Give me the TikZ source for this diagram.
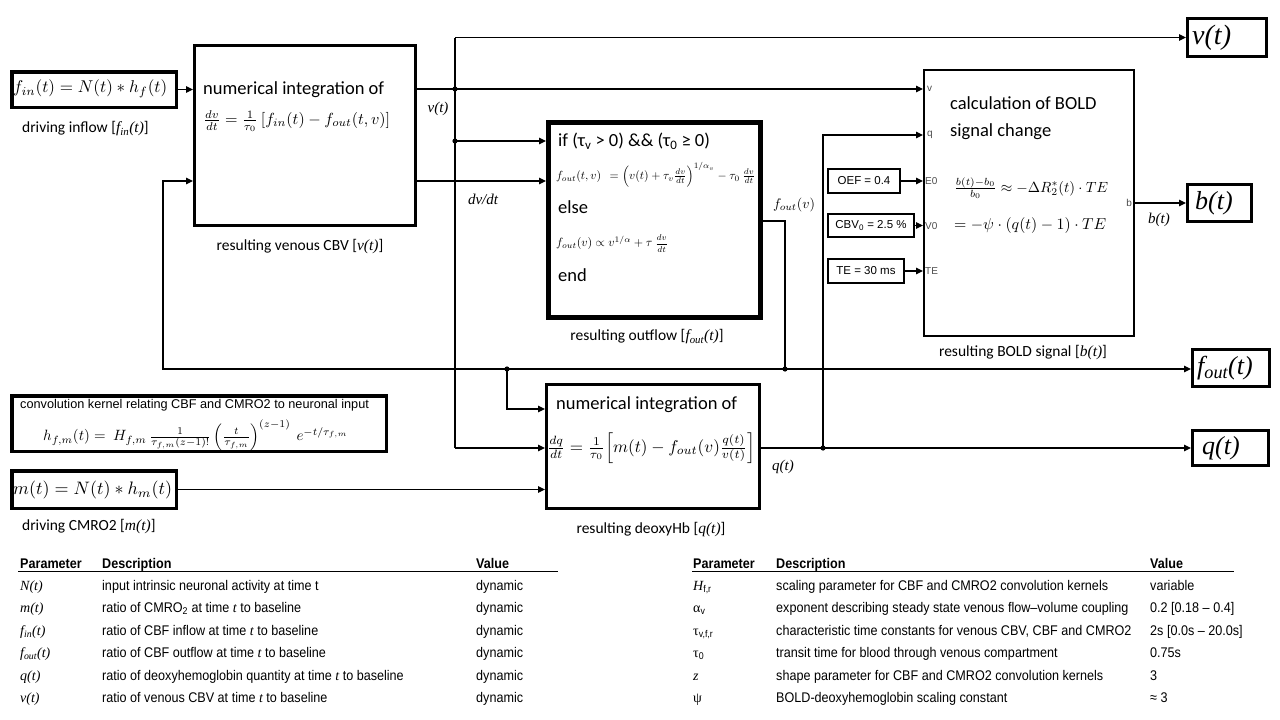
\documentclass[tikz,border=0pt]{standalone}
\usepackage{amsmath,amssymb}
\usepackage{graphicx}
\usepackage{fontspec}
\setmainfont{Carlito}
\newfontfamily\arialf{Liberation Sans}
\newfontfamily\arialn[FakeStretch=0.9]{Liberation Sans}
\newfontfamily\tnr{Liberation Serif}
\usetikzlibrary{arrows.meta,calc}
\newcommand{\fitw}[2]{\resizebox{#1}{!}{#2}}
\begin{document}
\begin{tikzpicture}[x=1pt,y=-1pt,
 box/.style={draw, anchor=north west, inner sep=0pt},
 conn/.style={line width=1.1pt},
 vert/.style={line width=2pt},
 arr/.style={conn, -{Triangle[length=7pt,width=6.5pt]}},
 txt/.style={inner sep=0pt, anchor=west},
 big/.style={font=\fontsize{18.5}{22}\selectfont},
 lab/.style={inner sep=0pt, font=\fontsize{15.5}{18}\selectfont},
 clab/.style={inner sep=0pt, font=\tnr\itshape\fontsize{15}{18}\selectfont},
 port/.style={inner sep=0pt, anchor=west, text=black!70, font=\arialf\fontsize{10}{12}\selectfont},
 prm/.style={inner sep=0pt, font=\arialf\fontsize{11.5}{14}\selectfont},
 outt/.style={inner sep=0pt, font=\tnr\itshape\fontsize{26}{30}\selectfont},
 tb/.style={inner sep=0pt, anchor=base west, font=\arialn\fontsize{14}{16}\selectfont},
 th/.style={inner sep=0pt, anchor=base west, font=\arialn\bfseries\fontsize{14}{16}\selectfont},
 jdot/.style={fill=black},
]
\useasboundingbox (0,0) rectangle (1280,720);
\fill[white] (0,0) rectangle (1280,720);

% ---------------- boxes ----------------
\node[box, line width=3.5pt, minimum width=164.5pt, minimum height=35.5pt] (fin) at (10,70) {};
\node[box, line width=3pt, minimum width=221pt, minimum height=180pt] (b1) at (193,44) {};
\node[box, line width=5pt, minimum width=212pt, minimum height=195pt] (b2) at (546,120) {};
\node[box, line width=3pt, minimum width=213pt, minimum height=124pt] (b3) at (545,383) {};
\node[box, line width=2pt, minimum width=210pt, minimum height=266pt] (bold) at (923,69) {};
\node[box, line width=3.5pt, minimum width=374.5pt, minimum height=55.5pt] (conv) at (10,394) {};
\node[box, line width=3.5pt, minimum width=164.5pt, minimum height=37.5pt] (mbox) at (10,469) {};
\node[box, line width=3pt, minimum width=79pt, minimum height=38pt] (vout) at (1186,17) {};
\node[box, line width=3pt, minimum width=64pt, minimum height=37pt] (bout) at (1186,183) {};
\node[box, line width=3pt, minimum width=77pt, minimum height=37pt] (foutout) at (1191,348) {};
\node[box, line width=3pt, minimum width=76pt, minimum height=35pt] (qout) at (1191,429) {};
\node[box, line width=2pt, minimum width=72pt, minimum height=24pt] (oef) at (827,168) {};
\node[box, line width=2pt, minimum width=86pt, minimum height=23pt] (cbv) at (827,213) {};
\node[box, line width=2pt, minimum width=76pt, minimum height=24pt] (te) at (827,258) {};

% ---------------- coordinates ----------------
\coordinate (J1) at (455,89);
\coordinate (J2) at (455,141);
\coordinate (Jb) at (455,448);
\coordinate (Ydv) at (0,181);
\coordinate (Fo) at (785,221);
\coordinate (J3) at (785,369);
\coordinate (FL) at (163,369);
\coordinate (J4) at (507,369);
\coordinate (Y409) at (0,409);
\coordinate (J5) at (823,448);
\coordinate (Yq) at (0,135);
\coordinate (Yb) at (0,203);

% ---------------- connectors ----------------
\draw[arr] (fin.east) -- (fin.east -| b1.west);
\draw[arr] (b1.east |- J1) -- (bold.west |- J1);
\draw[vert] (J1 |- vout.west) -- (Jb);
\draw[arr] (J1 |- vout.west) -- (vout.west);
\draw[arr] (J2) -- (b2.west |- J2);
\draw[arr] (b1.east |- Ydv) -- (b2.west |- Ydv);
\draw[conn] (b2.east |- Fo) -- (Fo) -- (J3);
\draw[arr] (J3) -- (foutout.west |- J3);
\draw[arr] (J3) -- (FL) |- (b1.west |- Ydv);
\draw[arr] (J4) |- (b3.west |- Y409);
\draw[arr] (Jb) -- (b3.west |- Jb);
\draw[arr] (mbox.east) -- (mbox.east -| b3.west);
\draw[arr] (b3.east |- Jb) -- (qout.west |- Jb);
\draw[arr] (J5) |- (bold.west |- Yq);
\draw[arr] (oef.east) -- (oef.east -| bold.west);
\draw[arr] (cbv.east) -- (cbv.east -| bold.west);
\draw[arr] (te.east) -- (te.east -| bold.west);
\draw[arr] (bold.east |- Yb) -- (bout.west |- Yb);
\foreach \j in {J1,J2,J3,J4,J5} \fill[jdot] (\j) circle (2.6pt);

% ---------------- texts in boxes ----------------
\node[txt] (fint) at (13,89) {\fitw{154pt}{$f_{in}(t)=N(t)*h_f(t)$}};
\node[txt] (mt) at (13,490) {\fitw{159pt}{$m(t)=N(t)*h_m(t)$}};

\node[txt,big] (b1t) at (203,90) {numerical integration of};
\node[txt] (b1e) at (203,121) {\fitw{187pt}{$\frac{dv}{dt}=\frac{1}{\tau_0}\,[f_{in}(t)-f_{out}(t,v)]$}};

\node[txt,big] (b2if) at (558,141) {if (τ\textsubscript{v} > 0) \&\& (τ\textsubscript{0} ≥ 0)};
\node[txt] (b2e1) at (556,175) {\fitw{199pt}{$f_{out}(t,v)\ \ =\Big(v(t)+\tau_v\frac{dv}{dt}\Big)^{1/\alpha_v}-\tau_0\ \frac{dv}{dt}$}};
\node[txt,big] (b2else) at (558,207) {else};
\node[txt] (b2e2) at (556,244) {\fitw{112pt}{$f_{out}(v)\propto v^{1/\alpha}+\tau\ \frac{\raisebox{1pt}{$\scriptstyle dv$}}{\raisebox{-1.5pt}{$\scriptstyle dt$}}$}};
\node[txt,big] (b2end) at (558,275) {end};

\node[txt,big] (b3t) at (556,405) {numerical integration of};
\node[txt] (b3e) at (547,448) {\fitw{208pt}{$\frac{dq}{dt}=\frac{1}{\tau_0}\Big[m(t)-f_{out}(v)\frac{q(t)}{v(t)}\Big]$}};

\node[txt,big] (boldt1) at (950,103) {calculation of BOLD};
\node[txt,big] (boldt2) at (950,132) {signal change};
\node[txt] (bolde1) at (954,188) {\fitw{154pt}{$\frac{b(t)-b_0}{b_0}\approx-\Delta R_2^*(t)\cdot TE$}};
\node[txt] (bolde2) at (954,226) {\fitw{152pt}{$=-\psi\cdot(q(t)-1)\cdot TE$}};

\node[txt, font=\arialf\fontsize{12.7}{15}\selectfont] (convt) at (20,405.5) {convolution kernel relating CBF and CMRO2 to neuronal input};
\node[txt] (conve) at (43,435) {\fitw{305pt}{$h_{f,m}(t)=\ H_{f,m}\,\frac{1}{\tau_{f,m}(z-1)!}\left(\frac{t}{\tau_{f,m}}\right)^{(z-1)}\ e^{-t/\tau_{f,m}}$}};

% port labels
\node[port] (pv) at (927,89) {v};
\node[port] (pq) at (927,135) {q};
\node[port] (pe) at (925,181) {E0};
\node[port] (pv0) at (925,226) {V0};
\node[port] (pte) at (925,271) {TE};
\node[port, anchor=east] (pb) at (1132,203) {b};

% parameter boxes
\node[prm] (oeft) at (oef) {OEF = 0.4};
\node[prm] (cbvt) at (cbv) {CBV\textsubscript{0} = 2.5 \%};
\node[prm] (tet) at (te) {TE = 30 ms};

% output boxes
\node[outt, anchor=west, font=\tnr\itshape\fontsize{28}{32}\selectfont] (voutt) at (1192,38) {v(t)};
\node[outt, anchor=west] (boutt) at (1195,203) {b(t)};
\node[outt, anchor=west] (foutt) at (1197,368) {f\textsubscript{out}(t)};
\node[outt, anchor=west] (qoutt) at (1202,448) {q(t)};

% connector labels
\node[clab] (lv) at (438,109) {v(t)};
\node[clab] (ldv) at (483,199) {dv/dt};
\node[inner sep=0pt] (lfo) at (794,205) {\fitw{42pt}{$f_{out}(v)$}};
\node[clab] (lq) at (783,467) {q(t)};
\node[clab] (lb) at (1159,220) {b(t)};

% captions
\node[lab, anchor=west] (cfin) at (22,129) {driving inflow [{\tnr\itshape f\textsubscript{in}(t)}]};
\node[lab] (cb1) at (300,247) {resulting venous CBV [{\tnr\itshape v(t)}]};
\node[lab] (cb2) at (647,337) {resulting outflow [{\tnr\itshape f\textsubscript{out}(t)}]};
\node[lab] (cb3) at (651,530) {resulting deoxyHb [{\tnr\itshape q(t)}]};
\node[lab] (cbold) at (1023,353) {resulting BOLD signal [{\tnr\itshape b(t)}]};
\node[lab, anchor=west] (cm) at (22,527) {driving CMRO2 [{\tnr\itshape m(t)}]};

% ---------------- tables ----------------
\node[th] (lh1) at (20,568) {Parameter};
\node[th] (lh2) at (102,568) {Description};
\node[th] (lh3) at (476,568) {Value};
\draw[line width=1pt] (18,571.5) -- (558,571.5);
\node[tb] (l1p) at (20,590) {\tnr\itshape N(t)};
\node[tb] (l1d) at (102,590) {input intrinsic neuronal activity at time t};
\node[tb] (l1v) at (476,590) {dynamic};
\node[tb] (l2p) at (20,612) {\tnr\itshape m(t)};
\node[tb] (l2d) at (102,612) {ratio of CMRO\textsubscript{2} at time {\tnr\itshape t} to baseline};
\node[tb] (l2v) at (476,612) {dynamic};
\node[tb] (l3p) at (20,635) {\tnr\itshape f\textsubscript{in}(t)};
\node[tb] (l3d) at (102,635) {ratio of CBF inflow at time {\tnr\itshape t} to baseline};
\node[tb] (l3v) at (476,635) {dynamic};
\node[tb] (l4p) at (20,657) {\tnr\itshape f\textsubscript{out}(t)};
\node[tb] (l4d) at (102,657) {ratio of CBF outflow at time {\tnr\itshape t} to baseline};
\node[tb] (l4v) at (476,657) {dynamic};
\node[tb] (l5p) at (20,680) {\tnr\itshape q(t)};
\node[tb] (l5d) at (102,680) {ratio of deoxyhemoglobin quantity at time {\tnr\itshape t} to baseline};
\node[tb] (l5v) at (476,680) {dynamic};
\node[tb] (l6p) at (20,702) {\tnr\itshape v(t)};
\node[tb] (l6d) at (102,702) {ratio of venous CBV at time {\tnr\itshape t} to baseline};
\node[tb] (l6v) at (476,702) {dynamic};

\node[th] (rh1) at (693,568) {Parameter};
\node[th] (rh2) at (776,568) {Description};
\node[th] (rh3) at (1150,568) {Value};
\draw[line width=1pt] (692,571.5) -- (1234,571.5);
\node[tb] (r1p) at (693,590) {{\tnr\itshape H}\textsubscript{f,r}};
\node[tb] (r1d) at (776,590) {scaling parameter for CBF and CMRO2 convolution kernels};
\node[tb] (r1v) at (1150,590) {variable};
\node[tb] (r2p) at (693,612) {{\tnr α}\textsubscript{v}};
\node[tb] (r2d) at (776,612) {exponent describing steady state venous flow–volume coupling};
\node[tb] (r2v) at (1150,612) {0.2 [0.18 – 0.4]};
\node[tb] (r3p) at (693,635) {{\tnr τ}\textsubscript{v,f,r}};
\node[tb] (r3d) at (776,635) {characteristic time constants for venous CBV, CBF and CMRO2};
\node[tb] (r3v) at (1150,635) {2s [0.0s – 20.0s]};
\node[tb] (r4p) at (693,657) {{\tnr τ}\textsubscript{0}};
\node[tb] (r4d) at (776,657) {transit time for blood through venous compartment};
\node[tb] (r4v) at (1150,657) {0.75s};
\node[tb] (r5p) at (693,680) {\tnr\itshape z};
\node[tb] (r5d) at (776,680) {shape parameter for CBF and CMRO2 convolution kernels};
\node[tb] (r5v) at (1150,680) {3};
\node[tb] (r6p) at (693,702) {\tnr ψ};
\node[tb] (r6d) at (776,702) {BOLD-deoxyhemoglobin scaling constant};
\node[tb] (r6v) at (1150,702) {≈ 3};
\end{tikzpicture}
\end{document}
